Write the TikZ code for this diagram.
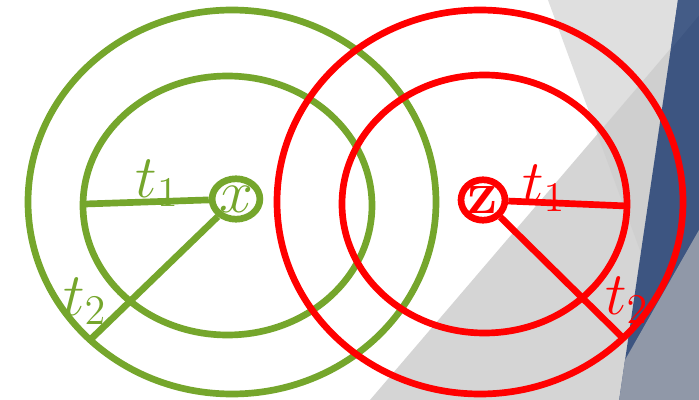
\documentclass[tikz,border=0pt]{standalone}
\usepackage{amsmath}
\usetikzlibrary{shapes.geometric}
\definecolor{ringgreen}{HTML}{75A62C}
\definecolor{panellight}{HTML}{DFDFDF}
\definecolor{panelmid}{HTML}{D5D5D5}
\definecolor{paneldark}{HTML}{CFCFCF}
\definecolor{stripblue}{HTML}{3D5581}
\definecolor{stripbluelight}{HTML}{445C87}
\definecolor{stripgrey}{HTML}{9098A8}

\begin{document}
\begin{tikzpicture}[x=0.01cm, y=-0.01cm,
	every node/.style={font=\fontsize{18}{20}\selectfont},
	ring/.style={line width=1.9pt},
	spoke/.style={line width=1.9pt},
	hub/.style={draw, ellipse, line width=1.9pt, inner sep=0pt, minimum width=12.5pt, minimum height=11.5pt}]
	\useasboundingbox (0,0) rectangle (699,400);
	\fill[white] (0,0) rectangle (699,400);
	\fill[panellight] (548,0) -- (678,0) -- (670.8,49.1) -- (597.5,134.7) -- cycle;
	\fill[panelmid] (370,400) -- (699,15.4) -- (699,400) -- cycle;
	\fill[paneldark] (597.5,134.7) -- (699,15.4) -- (699,400) -- (695,400) -- cycle;
	\fill[stripblue] (678,0) -- (699,0) -- (699,400) -- (619.2,400) -- cycle;
	\fill[stripbluelight] (678,0) -- (699,0) -- (699,15.4) -- (670.8,49.1) -- cycle;
	\fill[stripgrey] (699,230) -- (625,360) -- (619.2,400) -- (699,400) -- cycle;
	\draw[ring, ringgreen] (232,202) ellipse (204 and 192);
	\draw[ring, ringgreen] (227.5,205.5) ellipse (144.5 and 129.5);
	\draw[ring, red] (480,202) ellipse (203 and 192);
	\draw[ring, red] (484.5,204) ellipse (142.5 and 129);
	\node[hub, draw=ringgreen, text=ringgreen] (x) at (236,199) {$x$};
	\node[hub, draw=red, text=red] (z) at (483,200) {$\mathbf{z}$};
	\coordinate (gin) at (85,204);
	\coordinate (gout) at (90,340);
	\coordinate (rin) at (627,206);
	\coordinate (rout) at (623,338);
	\draw[spoke, ringgreen] (x) -- (gin);
	\draw[spoke, ringgreen] (x) -- (gout);
	\draw[spoke, red] (z) -- (rin);
	\draw[spoke, red] (z) -- (rout);
	\node[ringgreen] (gt1) at (157.5,183.5) {$t_1$};
	\node[ringgreen] (gt2) at (85,301) {$t_2$};
	\node[red] (rt1) at (544,188) {$t_1$};
	\node[red] (rt2) at (627,300) {$t_2$};
\end{tikzpicture}
\end{document}
